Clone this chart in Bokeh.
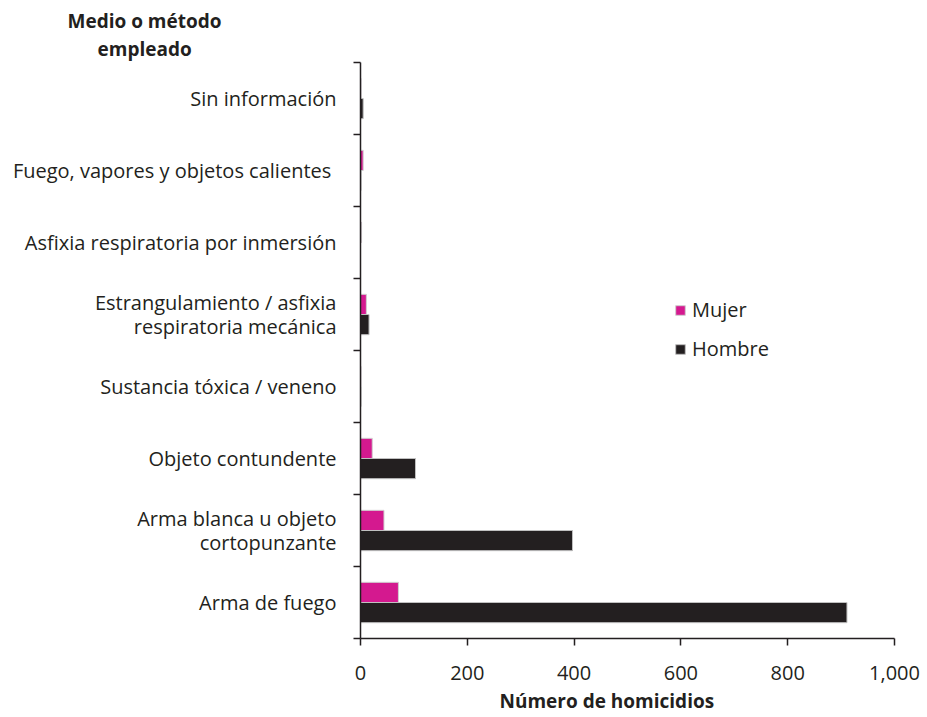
from bokeh.plotting import figure
from bokeh.models import (Range1d, LinearAxis, FixedTicker, NumeralTickFormatter,
                          Legend, LegendItem, Title, ColumnDataSource)
from bokeh.embed import file_html
from bokeh.resources import INLINE

# data (bottom to top)
categories = ["Arma de fuego", "Arma blanca u objeto\ncortopunzante", "Objeto contundente",
              "Sustancia tóxica / veneno", "Estrangulamiento / asfixia\nrespiratoria mecánica",
              "Asfixia respiratoria por inmersión", "Fuego, vapores  y objetos calientes",
              "Sin información"]
mujer = [71, 44, 22, 1, 11, 2, 5, 1]
hombre = [911, 397, 103, 1, 16, 0, 1, 5]
series_names = ["Mujer", "Hombre"]
x_ticks = [0, 200, 400, 600, 800, 1000]
x_title = "Número de homicidios"
y_title_lines = ["Medio o método", "empleado"]

FONT = "Open Sans"
MAGENTA = "#D4198F"
BLACK = "#231F20"

n = len(categories)
centers = [i + 0.5 for i in range(n)]
bw = 0.28
src = ColumnDataSource(dict(
    ym=[c + bw / 2 for c in centers],
    yh=[c - bw / 2 for c in centers],
    mujer=mujer, hombre=hombre))

p = figure(width=927, height=717, output_backend="svg", toolbar_location=None,
           x_range=Range1d(0, 1000), y_range=Range1d(0, n),
           min_border_left=360, min_border_top=62, min_border_right=33, min_border_bottom=79)
p.outline_line_color = None
p.grid.visible = False
p.background_fill_color = "white"

rm = p.hbar(y="ym", right="mujer", left=0, height=bw, source=src,
            fill_color=MAGENTA, line_color="#d0d0d0", line_width=1)
rh = p.hbar(y="yh", right="hombre", left=0, height=bw, source=src,
            fill_color=BLACK, line_color="#c0c0c0", line_width=1)

# x axis
xa = p.xaxis[0]
xa.ticker = FixedTicker(ticks=x_ticks)
xa.formatter = NumeralTickFormatter(format="0,0")
xa.axis_line_color = BLACK
xa.axis_line_width = 1.5
xa.major_tick_line_color = BLACK
xa.major_tick_line_width = 1.5
xa.major_tick_in = 0
xa.major_tick_out = 7
xa.minor_tick_line_color = None
xa.major_label_text_font = FONT
xa.major_label_text_font_size = "20px"
xa.major_label_text_color = BLACK
xa.major_label_standoff = 20

# y axis: boundary ticks
ya = p.yaxis[0]
ya.ticker = FixedTicker(ticks=list(range(n + 1)))
ya.major_label_text_font_size = "0px"
ya.major_label_text_color = None
ya.axis_line_color = BLACK
ya.axis_line_width = 1.5
ya.major_tick_line_color = BLACK
ya.major_tick_line_width = 1.5
ya.major_tick_in = 0
ya.major_tick_out = 7
ya.minor_tick_line_color = None

# category labels axis
ca = LinearAxis(ticker=FixedTicker(ticks=centers),
                major_label_overrides={c: lab for c, lab in zip(centers, categories)})
ca.axis_line_color = None
ca.major_tick_line_color = None
ca.minor_tick_line_color = None
ca.major_label_text_font = FONT
ca.major_label_text_font_size = "20px"
ca.major_label_text_color = BLACK
ca.major_label_text_align = "right"
ca.major_label_text_line_height = 0.92
ca.major_label_standoff = 11
p.add_layout(ca, "left")

legend = Legend(items=[LegendItem(label=series_names[0], renderers=[rm]),
                       LegendItem(label=series_names[1], renderers=[rh])],
                location=(314, 276), border_line_color=None, background_fill_alpha=0,
                glyph_width=12, glyph_height=12, label_text_font=FONT,
                label_text_font_size="20px", label_text_color=BLACK,
                spacing=12, padding=0, margin=0, label_standoff=6)
p.add_layout(legend, "center")

# y title (two lines, stacked above the frame; later-added goes further out)
t2 = Title(text=y_title_lines[1], align="left", offset=-263, standoff=0,
           vertical_align="middle", text_font=FONT, text_font_size="19px",
           text_font_style="bold", text_color=BLACK)
t1 = Title(text=y_title_lines[0], align="left", offset=-293, standoff=0,
           vertical_align="middle", text_font=FONT, text_font_size="19px",
           text_font_style="bold", text_color=BLACK)
p.add_layout(t2, "above")
p.add_layout(t1, "above")

# x title
tx = Title(text=x_title, align="left", offset=139, standoff=6,
           vertical_align="bottom", text_font=FONT, text_font_size="19px",
           text_font_style="bold", text_color=BLACK)
p.add_layout(tx, "below")

open("out.html", "w").write(file_html(p, INLINE))
